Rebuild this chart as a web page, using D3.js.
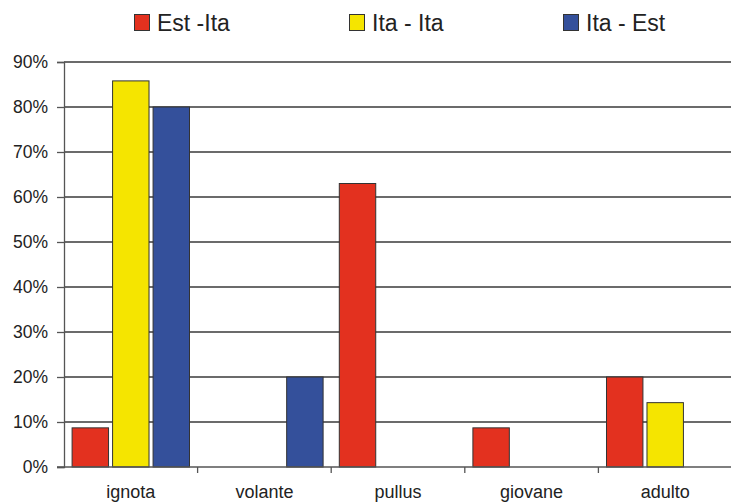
<!DOCTYPE html>
<html><head><meta charset="utf-8">
<script src="https://cdn.jsdelivr.net/npm/d3@7"></script>
<style>body{margin:0;background:#fff}svg{display:block}text{font-family:"Liberation Sans",Arial,sans-serif;fill:#222}</style>
</head><body><svg id="c" width="731" height="503"></svg>
<script>
const categories = ["ignota","volante","pullus","giovane","adulto"];
const seriesNames = ["Est -Ita","Ita - Ita","Ita - Est"];
const seriesColors = ["#e3311f","#f5e500","#34509b"];
const estIta = [8.7, 0, 63, 8.7, 20];
const itaIta = [85.8, 0, 0, 0, 14.3];
const itaEst = [80, 20, 0, 0, 0];
const yTicks = [0,10,20,30,40,50,60,70,80,90];
const series = [estIta, itaIta, itaEst];

const svg = d3.select("#c");
const m = {l:64, t:62, b:467};
const x = d3.scaleBand().domain(categories).range([m.l, 732]).paddingInner(0).paddingOuter(0);
const xs = d3.scaleBand().domain(seriesNames).range([0, x.bandwidth()]).paddingInner(0.1).paddingOuter(0.2);
const y = d3.scaleLinear().domain([0,90]).range([m.b, m.t]);

// gridlines
svg.append("g").selectAll("line").data(yTicks.filter(d=>d>0)).join("line")
  .attr("x1", m.l).attr("x2", 731).attr("y1", d=>y(d)).attr("y2", d=>y(d))
  .attr("stroke","#3a3a3a").attr("stroke-width",1.3);

// bars
const g = svg.append("g");
series.forEach((vals, si) => {
  g.selectAll(null).data(categories.map((c,i)=>({c, v: vals[i]})).filter(d=>d.v>0)).join("rect")
    .attr("x", d => x(d.c) + xs(seriesNames[si]))
    .attr("width", xs.bandwidth())
    .attr("y", d => y(d.v))
    .attr("height", d => y(0) - y(d.v))
    .attr("fill", seriesColors[si])
    .attr("stroke","#333").attr("stroke-width",1);
});

// y axis
const ya = d3.axisLeft(y).tickValues(yTicks).tickFormat(d=>d+"%").tickSize(7).tickPadding(9);
const yg = svg.append("g").attr("transform",`translate(${m.l},0)`).call(ya);
yg.select(".domain").attr("stroke","#555").attr("stroke-width",1.3);
yg.selectAll(".tick line").attr("stroke","#555").attr("stroke-width",1.3);
yg.selectAll("text").style("font-size","17.5px").attr("fill","#222");

// x axis
svg.append("line").attr("x1",m.l-7).attr("x2",731).attr("y1",y(0)).attr("y2",y(0)).attr("stroke","#555").attr("stroke-width",1.3);
const xa = d3.axisBottom(x).tickSize(0).tickPadding(0);
const xg = svg.append("g").attr("transform",`translate(0,${y(0)})`).call(xa);
xg.select(".domain").remove();
xg.selectAll("text").attr("y", 31).attr("dy","0").style("font-size","18px").attr("fill","#222");
svg.append("g").selectAll("line").data(categories.slice(1)).join("line")
  .attr("x1", d=>x(d)).attr("x2", d=>x(d)).attr("y1", y(0)).attr("y2", y(0)+6)
  .attr("stroke","#555").attr("stroke-width",1.3);

// legend
const legX = [134, 349, 563];
const lg = svg.append("g");
seriesNames.forEach((n,i)=>{
  lg.append("rect").attr("x",legX[i]+0.5).attr("y",14.5).attr("width",15).attr("height",16)
    .attr("fill",seriesColors[i]).attr("stroke","#333").attr("stroke-width",1);
  lg.append("text").attr("x",legX[i]+23).attr("y",31).text(n).style("font-size","23px");
});
</script></body></html>
